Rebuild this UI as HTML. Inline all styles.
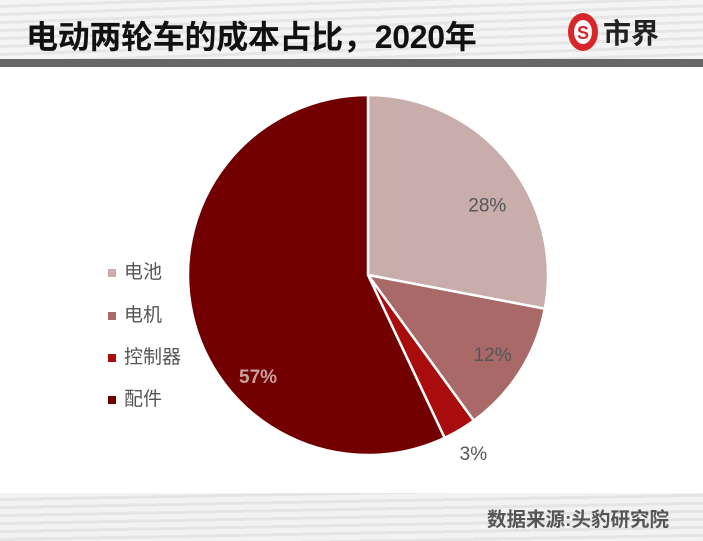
<!DOCTYPE html>
<html><head><meta charset="utf-8"><style>
body{margin:0;width:703px;height:541px;background:#fff;overflow:hidden;position:relative;font-family:"Liberation Sans","Noto Sans CJK SC",sans-serif}
.hdr{position:absolute;left:0;top:0;width:703px;height:59px;background:repeating-linear-gradient(178deg,#f4f4f4 0 5px,#e6e6e6 5px 8px)}
.bar{position:absolute;left:0;top:59px;width:703px;height:8px;background:#666}
.ftr{position:absolute;left:0;top:493px;width:703px;height:48px;background:repeating-linear-gradient(179deg,#f2f2f2 0 5px,#e4e4e4 5px 8px)}
.title{position:absolute;left:26px;top:12px;font-size:32px;font-weight:bold;color:#111;letter-spacing:-0.3px}
.src{position:absolute;left:487px;top:503px;font-size:19.5px;color:#555;font-weight:bold}
.logo{position:absolute;left:563px;top:10px}
.leg{position:absolute;left:108px;font-size:19px;color:#555}
.leg i{display:inline-block;width:8px;height:8px;margin-right:8px;vertical-align:middle}
</style></head><body>
<div class="hdr"></div>
<div class="bar"></div>
<div class="title">电动两轮车的成本占比，2020年</div>
<svg class="logo" width="110" height="44">
<ellipse cx="20" cy="22" rx="15" ry="19" fill="#d8262b"/>
<ellipse cx="20" cy="22" rx="9" ry="12" fill="#fff"/>
<text x="20" y="29" text-anchor="middle" font-size="18" font-weight="bold" fill="#d8262b">S</text>
<text x="40" y="33" font-size="28" font-weight="bold" fill="#222" font-family="Liberation Sans,Noto Sans CJK SC,sans-serif">市界</text>
</svg>
<svg id="pie" width="703" height="541" style="position:absolute;left:0;top:0"></svg>
<div class="leg" style="top:257px"><i style="background:#c9adab"></i>电池</div>
<div class="leg" style="top:300px"><i style="background:#a86968"></i>电机</div>
<div class="leg" style="top:342px"><i style="background:#a80c0c"></i>控制器</div>
<div class="leg" style="top:384px"><i style="background:#720000"></i>配件</div>
<div class="ftr"></div>
<div class="src">数据来源:头豹研究院</div>
<script>
const categories=["电池","电机","控制器","配件"];
const values=[28,12,3,57];
const labels=["28%","12%","3%","57%"];
const colors=["#c9adab","#a86968","#a80c0c","#720000"];
const svg=document.getElementById('pie');
const cx=368,cy=275,r=180,NS="http://www.w3.org/2000/svg";
const total=values.reduce((a,b)=>a+b,0);
let a0=0;
const pt=(a,rr)=>[cx+rr*Math.sin(a),cy-rr*Math.cos(a)];
const lblR=[0.77,0.82,1.15,0.83];
const lblOff=[9,0,0,-30];
values.forEach((v,i)=>{
 const a1=a0+v/total*2*Math.PI;
 const [x0,y0]=pt(a0,r),[x1,y1]=pt(a1,r);
 const p=document.createElementNS(NS,'path');
 p.setAttribute('d',`M${cx},${cy}L${x0},${y0}A${r},${r} 0 ${a1-a0>Math.PI?1:0} 1 ${x1},${y1}Z`);
 p.setAttribute('fill',colors[i]);p.setAttribute('stroke','#fff');p.setAttribute('stroke-width','2.5');
 
 
 svg.appendChild(p);
 const am=(a0+a1)/2+lblOff[i]*Math.PI/180;
 const [lx,ly]=pt(am,r*lblR[i]);
 const t=document.createElementNS(NS,'text');
 t.setAttribute('x',lx);t.setAttribute('y',ly+7);t.setAttribute('text-anchor','middle');
 t.setAttribute('font-size','19');t.setAttribute('fill',i==3?'#c9a0a0':'#555');
 if(i==3)t.setAttribute('font-weight','bold');
 t.textContent=labels[i];
 
 
 svg.appendChild(t);
 a0=a1;
});
</script>
</body></html>
